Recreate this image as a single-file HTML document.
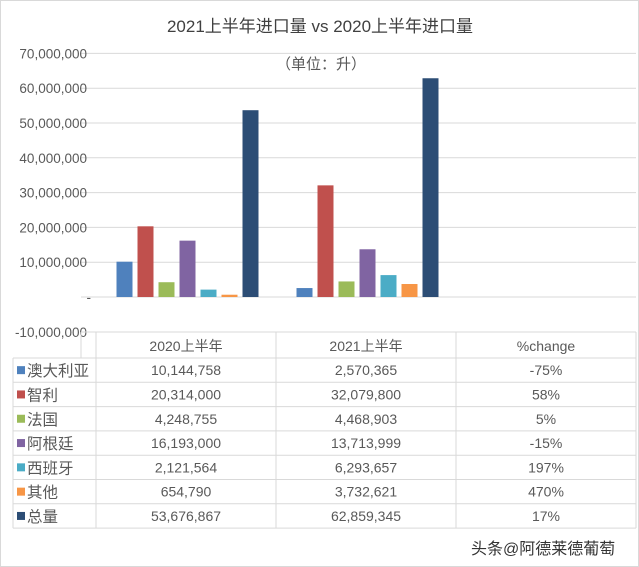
<!DOCTYPE html>
<html><head><meta charset="utf-8">
<style>
body{margin:0;background:#fff;font-family:"Liberation Sans","Noto Sans CJK SC",sans-serif;}
#wrap{position:relative;width:639px;height:567px;overflow:hidden;border:1px solid #d9d9d9;box-sizing:border-box;}
svg text{font-family:"Liberation Sans","Noto Sans CJK SC",sans-serif;fill:#595959;}
</style></head>
<body>
<div id="wrap">
<svg id="chart" width="639" height="567"></svg>
</div>
<script>
const categories=["2020上半年","2021上半年"];
const seriesNames=["澳大利亚","智利","法国","阿根廷","西班牙","其他","总量"];
const colors=["#4f81bd","#c0504d","#9bbb59","#8064a2","#4bacc6","#f79646","#2c4d75"];
const v2020=[10144758,20314000,4248755,16193000,2121564,654790,53676867];
const v2021=[2570365,32079800,4468903,13713999,6293657,3732621,62859345];
const pctChange=["-75%","58%","5%","-15%","197%","470%","17%"];
const yTicks=[-10000000,0,10000000,20000000,30000000,40000000,50000000,60000000,70000000];
const yTickLabels=["-10,000,000","-","10,000,000","20,000,000","30,000,000","40,000,000","50,000,000","60,000,000","70,000,000"];

const svg=document.getElementById('chart');
const NS="http://www.w3.org/2000/svg";
function mk(tag,attrs,parent){const e=document.createElementNS(NS,tag);for(const k in attrs)e.setAttribute(k,attrs[k]);(parent||svg).appendChild(e);return e;}
const y0=296,pxPer=34.8/10000000;
function yScale(v){return y0-v*pxPer;}
const plotL=95,plotR=635,catW=180;
function xCat(i){return plotL+i*catW;}

let t=mk('text',{x:319,y:31,'text-anchor':'middle','font-size':'17'});


t.style.fill='#404040';t.textContent="2021上半年进口量 vs 2020上半年进口量";
t=mk('text',{x:320,y:68,'text-anchor':'middle','font-size':'15'});


t.textContent="（单位：升）";

yTicks.forEach((v,i)=>{
  const y=yScale(v);
  if(v>0){const l=mk('line',{x1:80,x2:plotR,y1:y,y2:y,stroke:'#d9d9d9','stroke-width':1});
    
    }
  const tx=mk('text',{x:v===0?90:86,y:y+5,'text-anchor':'end','font-size':'13.5'});
  
  
  tx.textContent=yTickLabels[i];
});
let bl=mk('line',{x1:80,x2:plotR,y1:y0,y2:y0,stroke:'#d9d9d9','stroke-width':1});



[v2020,v2021].forEach((vals,ci)=>{
  const start=xCat(ci)+(catW-7*21)/2+4;
  vals.forEach((v,si)=>{
    const y=yScale(v);
    const r=mk('rect',{x:start+si*21,y:Math.min(y,y0),width:16,height:Math.abs(y0-y),fill:colors[si]});
    
    
  });
});

const tblTop=331,hH=26,rH=24.3,xs=[12,95,275,455,635];
const gridC='#d9d9d9';
function hl(x1,x2,y,name){const l=mk('line',{x1:x1,x2:x2,y1:y,y2:y,stroke:gridC});
  
  }
function vl(x,y1,y2){const l=mk('line',{x1:x,x2:x,y1:y1,y2:y2,stroke:gridC});
  
  }
const tblBottom=tblTop+hH+rH*7;
hl(80,635,tblTop,'table-top');
for(let r=0;r<=7;r++)hl(12,635,tblTop+hH+r*rH,'table-row-line');
vl(12,tblTop+hH,tblBottom);
vl(635,tblTop,tblBottom);
[80,95,275,455].forEach(x=>vl(x,x===80?tblTop:tblTop,x===80?tblTop+hH:tblBottom));
const hdr=[categories[0],categories[1],"%change"];
hdr.forEach((h,i)=>{const tx=mk('text',{x:(xs[i+1]+xs[i+2])/2,y:tblTop+19,'text-anchor':'middle','font-size':'14'});
  
  
  tx.textContent=h;});
seriesNames.forEach((n,r)=>{
  const cy=tblTop+hH+r*rH+rH/2;
  const sw=mk('rect',{x:16,y:cy-4,width:8,height:8,fill:colors[r]});
  
  
  let tx=mk('text',{x:26,y:cy+6,'font-size':'15.5'});
  
  
  tx.textContent=n;
  [v2020[r].toLocaleString('en-US'),v2021[r].toLocaleString('en-US'),pctChange[r]].forEach((s,i)=>{
    const c=mk('text',{x:(xs[i+1]+xs[i+2])/2,y:cy+5,'text-anchor':'middle','font-size':'14'});
    
    
    c.textContent=s;
  });
});
let wm=mk('text',{x:470,y:553,'font-size':'16'});


wm.style.fill='#333';wm.textContent="头条@阿德莱德葡萄";
</script>
</body></html>
